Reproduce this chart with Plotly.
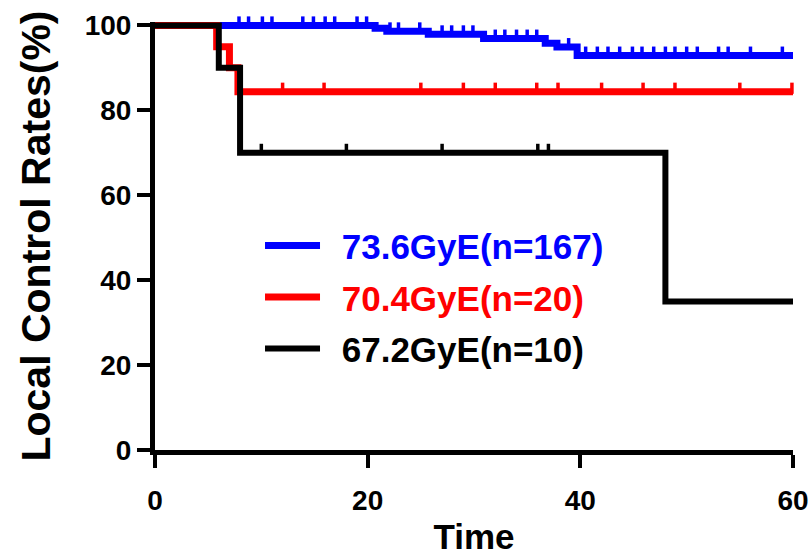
import plotly.graph_objects as go

# ---- data ----
blue_name = "73.6GyE(n=167)"
blue_times = [0, 20.7, 21.8, 25.7, 30.9, 36.7, 37.8, 39.7, 60]
blue_surv = [100, 99.3, 98.6, 97.9, 96.9, 95.8, 94.9, 92.9, 92.9]
blue_cens = [7.9, 8.8, 10.1, 11.0, 13.9, 14.9, 16.0, 16.9, 19.0, 19.9, 22.1, 22.9,
             24.9, 27.0, 27.9, 29.0, 29.9, 32.0, 32.9, 34.0, 35.0, 35.9, 38.9,
             40.5, 41.6, 42.6, 43.7, 44.9, 45.8, 46.9, 48.0, 48.9, 50.0, 51.0,
             53.0, 53.9, 56.0, 59.0]

red_name = "70.4GyE(n=20)"
red_times = [0, 5.8, 7.0, 7.8, 60]
red_surv = [100, 95, 90, 84.4, 84.4]
red_cens = [12.0, 15.9, 25.0, 29.0, 32.0, 35.9, 37.9, 42.0, 45.9, 48.9, 55.0, 59.9]

black_name = "67.2GyE(n=10)"
black_times = [0, 6.0, 8.0, 48.0, 60]
black_surv = [100, 90, 70, 35, 35]
black_cens = [10.0, 18.0, 27.0, 36.0, 37.0]

x_ticks = [0, 20, 40, 60]
y_ticks = [0, 20, 40, 60, 80, 100]


def step_value(times, surv, t):
    val = surv[0]
    for ti, si in zip(times, surv):
        if ti <= t:
            val = si
    return val


FONT = "Arial, 'Liberation Sans', sans-serif"
fig = go.Figure()

groups = [
    (blue_name, blue_times, blue_surv, blue_cens, "#0000FF", 7),
    (red_name, red_times, red_surv, red_cens, "#FF0000", 7),
    (black_name, black_times, black_surv, black_cens, "#000000", 6),
]

for name, times, surv, cens, color, lw in groups:
    fig.add_trace(go.Scatter(
        x=times, y=surv, mode="lines", line=dict(color=color, width=lw, shape="hv"),
        name=f"<span style='color:{color}'>&nbsp;&#8201;{name}</span>", legendgroup=name,
        showlegend=True, hoverinfo="skip"))
    cy = [step_value(times, surv, t) + 0.8 for t in cens]
    fig.add_trace(go.Scatter(
        x=cens, y=cy, mode="markers",
        marker=dict(symbol="line-ns", size=8, line=dict(color=color, width=3.5)),
        legendgroup=name, showlegend=False, cliponaxis=False, hoverinfo="skip"))

fig.update_layout(
    width=811, height=556,
    margin=dict(l=155, r=18, t=22, b=106),
    paper_bgcolor="white", plot_bgcolor="white",
    font=dict(family=FONT, color="black", size=28, weight="bold"),
    showlegend=True,
    legend=dict(x=0.1646, y=0.357, xanchor="left", yanchor="middle",
                bgcolor="rgba(0,0,0,0)", font=dict(size=35, family=FONT, weight="bold"),
                tracegroupgap=3, itemwidth=55),
    xaxis=dict(range=[0, 60], tickvals=x_ticks, showline=True, linewidth=5,
               linecolor="black", ticks="outside", ticklen=13, tickwidth=4,
               tickcolor="black", showgrid=False, zeroline=False, automargin=False,
               ticklabeloverflow="allow", ticklabelstandoff=8,
               tickfont=dict(size=28, family=FONT, weight="bold"),
               title=dict(text="Time", font=dict(size=35, family=FONT, weight="bold"),
                          standoff=22)),
    yaxis=dict(range=[0, 100.8], tickvals=y_ticks, showline=True, linewidth=5,
               linecolor="black", ticks="outside", ticklen=13, tickwidth=4,
               tickcolor="black", showgrid=False, zeroline=False, automargin=False,
               ticklabeloverflow="allow",
               tickfont=dict(size=28, family=FONT, weight="bold"),
               title=dict(text="Local Control Rates(%)",
                          font=dict(size=41, family=FONT, weight="bold"), standoff=23)),
)

fig.write_html(
    "out.html",
    config={"displayModeBar": False},
    post_script="document.body.style.margin='0';document.body.style.overflow='hidden';",
)
